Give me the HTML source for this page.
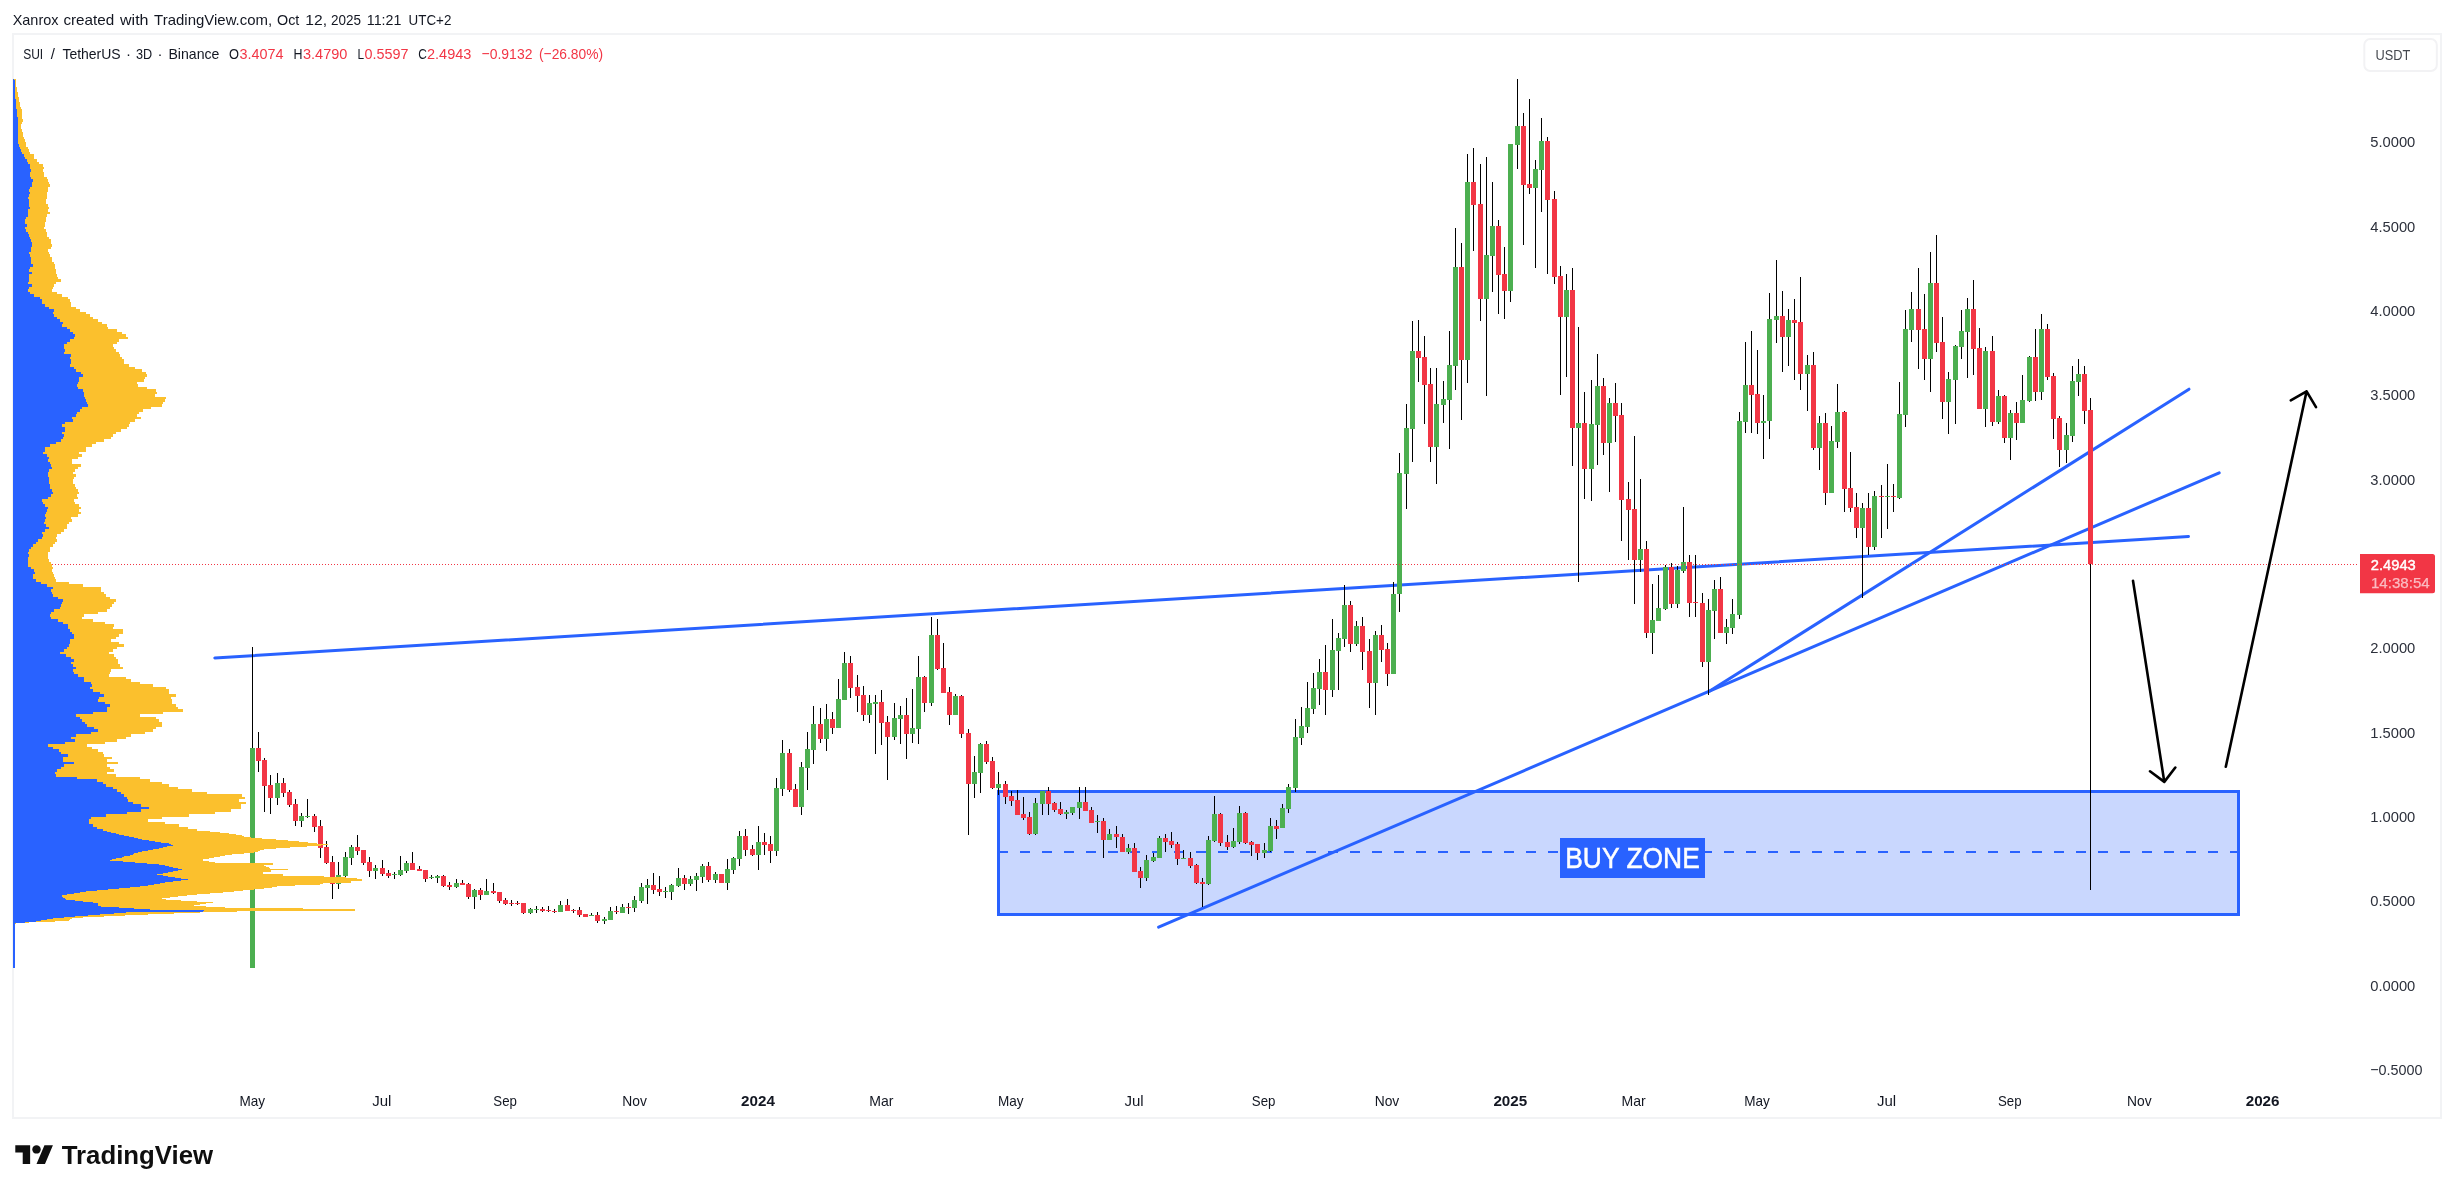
<!DOCTYPE html>
<html><head><meta charset="utf-8"><title>SUI / TetherUS chart</title>
<style>
html,body{margin:0;padding:0;background:#fff;}
body{width:2454px;height:1193px;overflow:hidden;}
svg{display:block;font-family:"Liberation Sans",sans-serif;}
</style></head><body>
<svg width="2454" height="1193" viewBox="0 0 2454 1193" shape-rendering="crispEdges">
<rect width="2454" height="1193" fill="#fff"/>
<rect x="13" y="34" width="2428" height="1084" fill="none" stroke="#f2f3f5" stroke-width="2"/>
<rect x="998.5" y="791.5" width="1240" height="123" fill="#c9d7fe" stroke="#2962ff" stroke-width="3"/>
<line x1="998.1" y1="852" x2="2238" y2="852" stroke="#2962ff" stroke-width="2" stroke-dasharray="10 12"/>
<g stroke="#2962ff" stroke-width="3" stroke-linecap="round" shape-rendering="geometricPrecision">
<line x1="214.8" y1="658" x2="2188.5" y2="536.5"/>
<line x1="1158.6" y1="927.1" x2="2219.2" y2="472.9"/>
<line x1="1709.0" y1="691.6" x2="2189.0" y2="389.2"/>
</g>
<rect x="1560" y="838" width="145" height="40" fill="#2962ff"/>
<path d="M252 647v321h1v-321zM258 732v40h1v-40zM264 758v54h1v-54zM270 775v39h1v-39zM277 773v32h1v-32zM283 778v19h1v-19zM289 790v17h1v-17zM295 799v27h1v-27zM301 813v14h1v-14zM307 799v19h1v-19zM314 814v18h1v-18zM320 820v38h1v-38zM326 841v23h1v-23zM332 856v43h1v-43zM338 862v27h1v-27zM345 852v25h1v-25zM351 845v20h1v-20zM357 835v20h1v-20zM363 850v15h1v-15zM369 857v20h1v-20zM375 865v14h1v-14zM382 860v16h1v-16zM388 870v8h1v-8zM394 872v7h1v-7zM400 856v20h1v-20zM406 861v12h1v-12zM412 852v18h1v-18zM419 866v5h1v-5zM425 870v12h1v-12zM431 875v4h1v-4zM437 875v8h1v-8zM443 875v12h1v-12zM449 882v8h1v-8zM456 879v9h1v-9zM462 880v5h1v-5zM468 883v16h1v-16zM474 889v20h1v-20zM480 888v12h1v-12zM486 879v16h1v-16zM493 883v11h1v-11zM499 892v11h1v-11zM505 898v7h1v-7zM511 900v6h1v-6zM517 901v4h1v-4zM523 903v11h1v-11zM530 908v6h1v-6zM536 906v7h1v-7zM542 907v5h1v-5zM548 906v6h1v-6zM554 909v4h1v-4zM560 901v11h1v-11zM567 899v12h1v-12zM573 909v4h1v-4zM579 907v10h1v-10zM585 914v3h1v-3zM591 913v3h1v-3zM597 912v11h1v-11zM604 917v7h1v-7zM610 907v13h1v-13zM616 906v8h1v-8zM622 904v9h1v-9zM628 903v11h1v-11zM634 896v16h1v-16zM641 883v20h1v-20zM647 879v25h1v-25zM653 873v21h1v-21zM659 876v20h1v-20zM665 887v11h1v-11zM671 884v16h1v-16zM678 868v19h1v-19zM684 875v15h1v-15zM690 876v10h1v-10zM696 873v18h1v-18zM702 864v19h1v-19zM708 862v20h1v-20zM715 872v11h1v-11zM721 874v9h1v-9zM727 859v31h1v-31zM733 857v17h1v-17zM739 831v35h1v-35zM745 829v27h1v-27zM752 845v11h1v-11zM758 826v44h1v-44zM764 833v22h1v-22zM770 836v27h1v-27zM776 778v78h1v-78zM782 740v56h1v-56zM789 749v43h1v-43zM795 784v23h1v-23zM801 762v53h1v-53zM807 732v58h1v-58zM813 706v58h1v-58zM820 708v35h1v-35zM826 704v47h1v-47zM832 712v22h1v-22zM838 679v49h1v-49zM844 652v48h1v-48zM850 656v42h1v-42zM857 675v37h1v-37zM863 686v35h1v-35zM869 695v28h1v-28zM875 695v59h1v-59zM881 690v55h1v-55zM887 716v64h1v-64zM894 703v37h1v-37zM900 706v38h1v-38zM906 698v61h1v-61zM912 689v54h1v-54zM918 656v88h1v-88zM924 676v36h1v-36zM931 617v89h1v-89zM937 619v51h1v-51zM943 643v50h1v-50zM949 687v38h1v-38zM955 694v21h1v-21zM961 695v43h1v-43zM968 729v106h1v-106zM974 756v42h1v-42zM980 743v50h1v-50zM986 741v23h1v-23zM992 757v32h1v-32zM998 772v23h1v-23zM1005 781v23h1v-23zM1011 791v15h1v-15zM1017 790v25h1v-25zM1023 797v23h1v-23zM1029 812v23h1v-23zM1035 798v37h1v-37zM1042 791v24h1v-24zM1048 787v28h1v-28zM1054 802v10h1v-10zM1060 802v13h1v-13zM1066 810v9h1v-9zM1072 807v8h1v-8zM1079 787v32h1v-32zM1085 787v24h1v-24zM1091 807v16h1v-16zM1097 815v18h1v-18zM1103 818v40h1v-40zM1109 829v11h1v-11zM1116 826v22h1v-22zM1122 834v18h1v-18zM1128 844v10h1v-10zM1134 843v29h1v-29zM1140 867v21h1v-21zM1146 855v26h1v-26zM1153 853v9h1v-9zM1159 836v22h1v-22zM1165 834v18h1v-18zM1171 832v16h1v-16zM1177 842v23h1v-23zM1183 850v9h1v-9zM1190 852v16h1v-16zM1196 864v20h1v-20zM1202 878v29h1v-29zM1208 836v49h1v-49zM1214 796v46h1v-46zM1220 813v33h1v-33zM1227 835v15h1v-15zM1233 828v20h1v-20zM1239 806v38h1v-38zM1245 812v32h1v-32zM1251 841v15h1v-15zM1257 844v16h1v-16zM1264 843v15h1v-15zM1270 818v34h1v-34zM1276 820v19h1v-19zM1282 804v24h1v-24zM1288 784v29h1v-29zM1295 719v73h1v-73zM1301 707v38h1v-38zM1307 682v51h1v-51zM1313 673v41h1v-41zM1319 659v46h1v-46zM1325 645v70h1v-70zM1332 619v78h1v-78zM1338 633v57h1v-57zM1344 585v62h1v-62zM1350 601v51h1v-51zM1356 621v25h1v-25zM1362 617v53h1v-53zM1369 639v69h1v-69zM1375 631v84h1v-84zM1381 625v37h1v-37zM1387 643v43h1v-43zM1393 582v92h1v-92zM1399 453v159h1v-159zM1406 404v105h1v-105zM1412 321v141h1v-141zM1418 320v62h1v-62zM1424 336v88h1v-88zM1430 368v94h1v-94zM1436 368v116h1v-116zM1443 381v42h1v-42zM1449 331v118h1v-118zM1455 228v162h1v-162zM1461 243v177h1v-177zM1467 154v229h1v-229zM1473 148v103h1v-103zM1480 164v157h1v-157zM1486 157v239h1v-239zM1492 182v110h1v-110zM1498 220v94h1v-94zM1504 247v72h1v-72zM1510 144v158h1v-158zM1517 79v90h1v-90zM1523 113v132h1v-132zM1529 99v95h1v-95zM1535 160v108h1v-108zM1541 118v94h1v-94zM1547 137v137h1v-137zM1554 191v93h1v-93zM1560 266v129h1v-129zM1566 274v103h1v-103zM1572 268v198h1v-198zM1578 327v255h1v-255zM1584 392v107h1v-107zM1591 380v121h1v-121zM1597 354v111h1v-111zM1603 378v77h1v-77zM1609 398v94h1v-94zM1615 383v59h1v-59zM1621 403v138h1v-138zM1628 482v78h1v-78zM1634 436v168h1v-168zM1640 479v93h1v-93zM1646 541v97h1v-97zM1652 584v70h1v-70zM1658 575v46h1v-46zM1665 565v45h1v-45zM1671 563v45h1v-45zM1677 566v42h1v-42zM1683 507v66h1v-66zM1689 555v62h1v-62zM1695 555v62h1v-62zM1702 593v74h1v-74zM1708 599v96h1v-96zM1714 580v59h1v-59zM1720 577v56h1v-56zM1726 619v25h1v-25zM1732 599v35h1v-35zM1739 412v207h1v-207zM1745 342v91h1v-91zM1751 331v102h1v-102zM1757 350v84h1v-84zM1763 395v64h1v-64zM1769 293v146h1v-146zM1776 260v83h1v-83zM1782 291v81h1v-81zM1788 309v57h1v-57zM1794 299v81h1v-81zM1800 277v113h1v-113zM1807 355v56h1v-56zM1813 352v98h1v-98zM1819 416v54h1v-54zM1825 413v92h1v-92zM1831 426v67h1v-67zM1837 384v64h1v-64zM1844 411v101h1v-101zM1850 452v60h1v-60zM1856 493v45h1v-45zM1862 503v95h1v-95zM1868 493v62h1v-62zM1874 491v59h1v-59zM1881 485v53h1v-53zM1887 464v65h1v-65zM1893 484v28h1v-28zM1899 382v117h1v-117zM1905 310v117h1v-117zM1911 292v50h1v-50zM1918 268v101h1v-101zM1924 294v86h1v-86zM1930 252v140h1v-140zM1936 235v117h1v-117zM1942 317v102h1v-102zM1948 372v62h1v-62zM1955 345v79h1v-79zM1961 310v49h1v-49zM1967 298v80h1v-80zM1973 280v95h1v-95zM1979 328v81h1v-81zM1985 347v80h1v-80zM1992 336v90h1v-90zM1998 390v34h1v-34zM2004 395v48h1v-48zM2010 410v50h1v-50zM2016 402v38h1v-38zM2022 375v48h1v-48zM2029 356v46h1v-46zM2035 329v72h1v-72zM2041 314v86h1v-86zM2047 324v56h1v-56zM2053 373v66h1v-66zM2059 416v51h1v-51zM2066 423v40h1v-40zM2072 366v76h1v-76zM2078 359v37h1v-37zM2084 366v58h1v-58zM2090 398v492h1v-492z" fill="#000"/>
<path d="M250 748v220h5v-220zM275 783v15h5v-15zM299 816v5h5v-5zM305 816v1h5v-1zM336 875v9h5v-9zM343 857v19h5v-19zM349 847v11h5v-11zM373 868v3h5v-3zM392 874v1h5v-1zM398 870v5h5v-5zM404 863v8h5v-8zM429 877v1h5v-1zM435 876v2h5v-2zM454 883v4h5v-4zM472 890v7h5v-7zM484 891v4h5v-4zM528 909v4h5v-4zM534 909v1h5v-1zM558 905v7h5v-7zM589 915v1h5v-1zM602 919v2h5v-2zM608 911v9h5v-9zM620 907v6h5v-6zM632 900v8h5v-8zM639 887v14h5v-14zM645 885v3h5v-3zM663 891v1h5v-1zM669 885v7h5v-7zM676 878v8h5v-8zM688 879v5h5v-5zM694 876v4h5v-4zM700 866v11h5v-11zM713 874v6h5v-6zM725 869v14h5v-14zM731 858v12h5v-12zM737 836v23h5v-23zM756 842v13h5v-13zM774 788v63h5v-63zM780 753v36h5v-36zM799 767v40h5v-40zM805 749v19h5v-19zM811 724v26h5v-26zM824 719v20h5v-20zM836 699v29h5v-29zM842 663v37h5v-37zM867 703v12h5v-12zM873 702v2h5v-2zM892 718v19h5v-19zM898 715v4h5v-4zM910 728v6h5v-6zM916 677v52h5v-52zM929 635v68h5v-68zM953 696v19h5v-19zM972 772v12h5v-12zM978 744v29h5v-29zM996 784v4h5v-4zM1033 803v31h5v-31zM1040 791v13h5v-13zM1064 812v2h5v-2zM1070 807v6h5v-6zM1077 802v6h5v-6zM1095 821v1h5v-1zM1107 834v6h5v-6zM1126 848v4h5v-4zM1144 860v18h5v-18zM1151 857v4h5v-4zM1157 838v20h5v-20zM1181 858v1h5v-1zM1206 840v44h5v-44zM1212 814v27h5v-27zM1231 841v6h5v-6zM1237 813v29h5v-29zM1262 850v3h5v-3zM1268 826v25h5v-25zM1280 808v20h5v-20zM1286 787v22h5v-22zM1293 737v51h5v-51zM1299 726v12h5v-12zM1305 708v19h5v-19zM1311 688v21h5v-21zM1317 672v17h5v-17zM1330 650v40h5v-40zM1336 638v13h5v-13zM1342 605v34h5v-34zM1354 626v18h5v-18zM1373 635v48h5v-48zM1391 594v80h5v-80zM1397 473v121h5v-121zM1404 428v46h5v-46zM1410 351v78h5v-78zM1434 404v43h5v-43zM1441 399v6h5v-6zM1447 365v35h5v-35zM1453 267v99h5v-99zM1465 182v178h5v-178zM1484 255v44h5v-44zM1490 226v30h5v-30zM1508 144v147h5v-147zM1515 126v19h5v-19zM1533 169v19h5v-19zM1539 141v29h5v-29zM1564 290v27h5v-27zM1576 423v5h5v-5zM1589 424v45h5v-45zM1595 386v39h5v-39zM1607 403v40h5v-40zM1638 549v11h5v-11zM1650 620v13h5v-13zM1656 608v13h5v-13zM1663 567v42h5v-42zM1675 570v34h5v-34zM1681 562v9h5v-9zM1706 610v52h5v-52zM1712 589v22h5v-22zM1724 627v6h5v-6zM1730 614v14h5v-14zM1737 421v194h5v-194zM1743 385v37h5v-37zM1761 421v2h5v-2zM1767 319v102h5v-102zM1774 316v4h5v-4zM1786 320v17h5v-17zM1805 365v9h5v-9zM1817 423v25h5v-25zM1829 441v52h5v-52zM1835 412v30h5v-30zM1860 508v20h5v-20zM1872 496v51h5v-51zM1885 496v1h5v-1zM1897 414v84h5v-84zM1903 329v86h5v-86zM1909 309v21h5v-21zM1928 283v76h5v-76zM1946 379v23h5v-23zM1953 346v34h5v-34zM1959 331v16h5v-16zM1965 309v23h5v-23zM1983 351v58h5v-58zM1996 396v26h5v-26zM2008 413v25h5v-25zM2020 400v23h5v-23zM2027 357v44h5v-44zM2039 329v63h5v-63zM2064 435v15h5v-15zM2070 381v55h5v-55zM2076 374v8h5v-8z" fill="#4caf50"/>
<path d="M256 748v13h5v-13zM262 760v26h5v-26zM268 785v13h5v-13zM281 783v10h5v-10zM287 792v13h5v-13zM293 804v17h5v-17zM312 816v11h5v-11zM318 826v22h5v-22zM324 847v16h5v-16zM330 862v22h5v-22zM355 847v4h5v-4zM361 850v13h5v-13zM367 862v9h5v-9zM380 868v6h5v-6zM386 873v3h5v-3zM410 863v7h5v-7zM417 869v2h5v-2zM423 870v9h5v-9zM441 876v10h5v-10zM447 885v2h5v-2zM460 883v2h5v-2zM466 884v13h5v-13zM478 890v5h5v-5zM491 891v2h5v-2zM497 892v9h5v-9zM503 900v4h5v-4zM509 903v1h5v-1zM515 903v1h5v-1zM521 903v10h5v-10zM540 909v2h5v-2zM546 910v1h5v-1zM552 911v1h5v-1zM565 905v6h5v-6zM571 910v1h5v-1zM577 910v5h5v-5zM583 914v3h5v-3zM595 915v6h5v-6zM614 911v1h5v-1zM626 907v1h5v-1zM651 885v5h5v-5zM657 889v3h5v-3zM682 878v6h5v-6zM706 866v14h5v-14zM719 874v9h5v-9zM743 836v14h5v-14zM750 849v6h5v-6zM762 842v3h5v-3zM768 844v7h5v-7zM787 753v37h5v-37zM793 789v18h5v-18zM818 724v15h5v-15zM830 719v9h5v-9zM848 663v25h5v-25zM855 687v9h5v-9zM861 695v20h5v-20zM879 702v21h5v-21zM885 722v15h5v-15zM904 715v19h5v-19zM922 677v26h5v-26zM935 635v34h5v-34zM941 668v25h5v-25zM947 692v23h5v-23zM959 696v38h5v-38zM966 733v51h5v-51zM984 744v18h5v-18zM990 761v27h5v-27zM1003 784v13h5v-13zM1009 796v5h5v-5zM1015 800v15h5v-15zM1021 814v4h5v-4zM1027 817v17h5v-17zM1046 791v13h5v-13zM1052 803v7h5v-7zM1058 809v5h5v-5zM1083 802v9h5v-9zM1089 810v13h5v-13zM1101 821v19h5v-19zM1114 834v3h5v-3zM1120 837v15h5v-15zM1132 848v24h5v-24zM1138 871v7h5v-7zM1163 838v4h5v-4zM1169 841v4h5v-4zM1175 844v15h5v-15zM1188 858v8h5v-8zM1194 865v18h5v-18zM1200 882v2h5v-2zM1218 814v29h5v-29zM1225 842v5h5v-5zM1243 813v30h5v-30zM1249 842v3h5v-3zM1255 844v9h5v-9zM1274 826v3h5v-3zM1323 672v18h5v-18zM1348 605v39h5v-39zM1360 626v26h5v-26zM1367 651v32h5v-32zM1379 635v15h5v-15zM1385 649v25h5v-25zM1416 351v7h5v-7zM1422 357v28h5v-28zM1428 384v63h5v-63zM1459 267v93h5v-93zM1471 182v23h5v-23zM1478 204v95h5v-95zM1496 226v49h5v-49zM1502 274v17h5v-17zM1521 126v59h5v-59zM1527 184v4h5v-4zM1545 141v59h5v-59zM1552 199v78h5v-78zM1558 276v41h5v-41zM1570 290v138h5v-138zM1582 423v46h5v-46zM1601 386v57h5v-57zM1613 403v13h5v-13zM1619 415v85h5v-85zM1626 499v11h5v-11zM1632 509v51h5v-51zM1644 549v84h5v-84zM1669 567v37h5v-37zM1687 562v41h5v-41zM1693 602v1h5v-1zM1700 603v59h5v-59zM1718 589v44h5v-44zM1749 385v10h5v-10zM1755 394v29h5v-29zM1780 316v21h5v-21zM1792 320v3h5v-3zM1798 322v52h5v-52zM1811 365v83h5v-83zM1823 423v70h5v-70zM1842 412v77h5v-77zM1848 488v20h5v-20zM1854 507v21h5v-21zM1866 508v39h5v-39zM1879 496v1h5v-1zM1891 496v1h5v-1zM1916 309v21h5v-21zM1922 329v30h5v-30zM1934 283v60h5v-60zM1940 342v60h5v-60zM1971 309v40h5v-40zM1977 348v61h5v-61zM1990 351v71h5v-71zM2002 396v42h5v-42zM2014 413v10h5v-10zM2033 357v35h5v-35zM2045 329v48h5v-48zM2051 376v43h5v-43zM2057 418v32h5v-32zM2082 374v37h5v-37zM2088 410v154h5v-154z" fill="#f23645"/>
<path d="M13 79H16V80H16V81H16V82H16V83H16V84H16V85H16V86H16V87H17V88H17V89H17V90H17V91H17V92H18V93H18V94H18V95H18V96H18V97H19V98H19V99H19V100H19V101H19V102H20V103H20V104H20V105H20V106H20V107H21V108H21V109H22V110H22V111H22V112H22V113H22V114H22V115H22V116H22V117H22V118H22V119H23V120H23V121H23V122H22V123H22V124H21V125H21V126H21V127H21V128H21V129H22V130H22V131H22V132H23V133H23V134H23V135H23V136H23V137H24V138H24V139H25V140H25V141H25V142H26V143H26V144H26V145H26V146H26V147H28V148H28V149H29V150H29V151H29V152H30V153H30V154H34V155H34V156H34V157H34V158H34V159H37V160H37V161H37V162H39V163H39V164H43V165H43V166H43V167H44V168H44V169H43V170H43V171H43V172H44V173H44V174H44V175H44V176H44V177H47V178H47V179H48V180H48V181H48V182H49V183H49V184H50V185H50V186H50V187H48V188H48V189H48V190H48V191H48V192H47V193H47V194H47V195H47V196H47V197H47V198H47V199H46V200H46V201H46V202H46V203H46V204H48V205H48V206H48V207H49V208H49V209H48V210H48V211H48V212H50V213H50V214H47V215H47V216H47V217H46V218H46V219H46V220H46V221H46V222H45V223H45V224H45V225H45V226H45V227H44V228H44V229H46V230H46V231H46V232H47V233H47V234H47V235H47V236H47V237H49V238H49V239H51V240H51V241H51V242H51V243H51V244H52V245H52V246H52V247H51V248H51V249H48V250H48V251H48V252H49V253H49V254H50V255H50V256H50V257H52V258H52V259H52V260H52V261H52V262H54V263H54V264H55V265H55V266H55V267H55V268H55V269H56V270H56V271H56V272H56V273H56V274H57V275H57V276H57V277H58V278H58V279H61V280H61V281H61V282H56V283H56V284H54V285H54V286H54V287H53V288H53V289H52V290H52V291H52V292H57V293H57V294H62V295H62V296H62V297H68V298H68V299H70V300H70V301H70V302H71V303H71V304H71V305H71V306H71V307H76V308H76V309H80V310H80V311H80V312H86V313H86V314H90V315H90V316H90V317H93V318H93V319H98V320H98V321H98V322H102V323H102V324H107V325H107V326H107V327H108V328H108V329H117V330H117V331H117V332H122V333H122V334H126V335H126V336H126V337H128V338H128V339H119V340H119V341H119V342H117V343H117V344H113V345H113V346H113V347H114V348H114V349H116V350H116V351H116V352H119V353H119V354H120V355H120V356H120V357H122V358H122V359H124V360H124V361H124V362H124V363H124V364H129V365H129V366H129V367H135V368H135V369H142V370H142V371H142V372H146V373H146V374H147V375H147V376H147V377H145V378H145V379H144V380H144V381H144V382H137V383H137V384H138V385H138V386H138V387H147V388H147V389H156V390H156V391H156V392H157V393H157V394H155V395H155V396H155V397H166V398H166V399H165V400H165V401H165V402H163V403H163V404H162V405H162V406H162V407H151V408H151V409H143V410H143V411H143V412H139V413H139V414H137V415H137V416H137V417H141V418H141V419H135V420H135V421H135V422H130V423H130V424H129V425H129V426H129V427H127V428H127V429H121V430H121V431H121V432H116V433H116V434H113V435H113V436H113V437H111V438H111V439H104V440H104V441H104V442H96V443H96V444H92V445H92V446H92V447H86V448H86V449H86V450H86V451H86V452H79V453H79V454H82V455H82V456H82V457H78V458H78V459H72V460H72V461H72V462H72V463H72V464H81V465H81V466H81V467H78V468H78V469H75V470H75V471H75V472H73V473H73V474H76V475H76V476H76V477H74V478H74V479H73V480H73V481H73V482H73V483H73V484H75V485H75V486H75V487H76V488H76V489H78V490H78V491H78V492H79V493H79V494H77V495H77V496H77V497H78V498H78V499H74V500H74V501H74V502H75V503H75V504H79V505H79V506H79V507H81V508H81V509H79V510H79V511H79V512H81V513H81V514H78V515H78V516H78V517H71V518H71V519H72V520H72V521H72V522H69V523H69V524H67V525H67V526H67V527H67V528H67V529H64V530H64V531H64V532H61V533H61V534H57V535H57V536H57V537H56V538H56V539H57V540H57V541H57V542H55V543H55V544H53V545H53V546H53V547H50V548H50V549H50V550H50V551H50V552H48V553H48V554H48V555H48V556H48V557H48V558H48V559H49V560H49V561H49V562H51V563H51V564H52V565H52V566H52V567H53V568H53V569H52V570H52V571H52V572H53V573H53V574H54V575H54V576H54V577H55V578H55V579H56V580H56V581H56V582H69V583H69V584H83V585H83V586H83V587H101V588H101V589H101V590H101V591H101V592H104V593H104V594H106V595H106V596H106V597H110V598H110V599H116V600H116V601H116V602H114V603H114V604H112V605H112V606H112V607H110V608H110V609H107V610H107V611H107V612H98V613H98V614H84V615H84V616H84V617H82V618H82V619H93V620H93V621H93V622H105V623H105V624H114V625H114V626H114V627H113V628H113V629H123V630H123V631H123V632H123V633H123V634H119V635H119V636H119V637H116V638H116V639H111V640H111V641H111V642H119V643H119V644H124V645H124V646H124V647H117V648H117V649H113V650H113V651H113V652H109V653H109V654H114V655H114V656H114V657H116V658H116V659H118V660H118V661H118V662H118V663H118V664H120V665H120V666H120V667H123V668H123V669H111V670H111V671H111V672H110V673H110V674H109V675H109V676H109V677H126V678H126V679H131V680H131V681H131V682H140V683H140V684H153V685H153V686H153V687H166V688H166V689H169V690H169V691H169V692H169V693H169V694H176V695H176V696H176V697H171V698H171V699H172V700H172V701H172V702H172V703H172V704H176V705H176V706H176V707H178V708H178V709H183V710H183V711H183V712H163V713H163V714H140V715H140V716H140V717H156V718H156V719H159V720H159V721H159V722H162V723H162V724H162V725H162V726H162V727H156V728H156V729H153V730H153V731H153V732H145V733H145V734H131V735H131V736H131V737H126V738H126V739H117V740H117V741H117V742H105V743H105V744H87V745H87V746H87V747H92V748H92V749H98V750H98V751H98V752H103V753H103V754H104V755H104V756H104V757H112V758H112V759H107V760H107V761H107V762H118V763H118V764H107V765H107V766H107V767H110V768H110V769H114V770H114V771H114V772H107V773H107V774H116V775H116V776H116V777H140V778H140V779H150V780H150V781H150V782H162V783H162V784H169V785H169V786H169V787H178V788H178V789H192V790H192V791H192V792H207V793H207V794H242V795H242V796H242V797H245V798H245V799H239V800H239V801H239V802H246V803H246V804H241V805H241V806H241V807H241V808H241V809H231V810H231V811H231V812H215V813H215V814H189V815H189V816H189V817H162V818H162V819H148V820H148V821H148V822H165V823H165V824H179V825H179V826H179V827H188V828H188V829H197V830H197V831H210V832H220V833H229V834H236V835H242V836H244V837H251V838H262V839H276V840H288V841H299V842H308V843H317V844H328V845H321V846H307V847H290V848H276V849H264V850H260V851H258V852H254V853H244V854H232V855H225V856H220V857H214V858H209V859H203V860H203V861H209V862H215V863H273V864H273V865H264V866H266V867H269V868H270V869H288V870H271V871H271V872H263V873H263V874H283V875H283V876H324V877H346V878H357V879H362V880H362V881H351V882H351V883H323V884H320V885H295V886H277V887H272V888H264V889H254V890H243V891H234V892H223V893H210V894H197V895H187V896H178V897H170V898H162V899H166V900H181V901H197V902H213V903H206V904H200V905H194V906H206V907H225V908H303V909H355V910H355V911H237V912H200V913H174V914H148V915H125V916H104V917H83V918H72V919H70V920H69V921H55V922H29V923H16V924H13Z" fill="#fbc02d"/>
<path d="M13 79H14V80H14V81H14V82H14V83H14V84H14V85H14V86H14V87H14V88H14V89H15V90H15V91H15V92H15V93H15V94H15V95H15V96H15V97H15V98H15V99H16V100H16V101H16V102H16V103H16V104H16V105H16V106H16V107H16V108H16V109H17V110H17V111H17V112H17V113H17V114H17V115H17V116H17V117H18V118H18V119H18V120H18V121H18V122H18V123H18V124H18V125H18V126H18V127H18V128H18V129H18V130H18V131H18V132H18V133H18V134H18V135H18V136H18V137H18V138H18V139H18V140H18V141H18V142H18V143H18V144H19V145H19V146H19V147H20V148H20V149H21V150H21V151H21V152H22V153H22V154H24V155H24V156H24V157H25V158H25V159H27V160H27V161H27V162H28V163H28V164H30V165H30V166H30V167H30V168H30V169H31V170H31V171H31V172H30V173H30V174H30V175H30V176H30V177H31V178H31V179H33V180H33V181H33V182H32V183H32V184H32V185H32V186H32V187H30V188H30V189H29V190H29V191H29V192H30V193H30V194H29V195H29V196H29V197H28V198H28V199H29V200H29V201H29V202H29V203H29V204H29V205H29V206H29V207H30V208H30V209H28V210H28V211H28V212H28V213H28V214H28V215H28V216H28V217H26V218H26V219H25V220H25V221H25V222H25V223H25V224H27V225H27V226H27V227H25V228H25V229H26V230H26V231H26V232H28V233H28V234H29V235H29V236H29V237H30V238H30V239H31V240H31V241H31V242H32V243H32V244H32V245H32V246H32V247H31V248H31V249H31V250H31V251H31V252H29V253H29V254H30V255H30V256H30V257H31V258H31V259H31V260H31V261H31V262H31V263H31V264H33V265H33V266H33V267H30V268H30V269H29V270H29V271H29V272H32V273H32V274H29V275H29V276H29V277H29V278H29V279H29V280H29V281H29V282H28V283H28V284H32V285H32V286H32V287H29V288H29V289H28V290H28V291H28V292H30V293H30V294H34V295H34V296H34V297H40V298H40V299H42V300H42V301H42V302H42V303H42V304H45V305H45V306H45V307H49V308H49V309H54V310H54V311H54V312H53V313H53V314H54V315H54V316H54V317H57V318H57V319H60V320H60V321H60V322H63V323H63V324H62V325H62V326H62V327H67V328H67V329H70V330H70V331H70V332H73V333H73V334H75V335H75V336H75V337H74V338H74V339H70V340H70V341H70V342H67V343H67V344H64V345H64V346H64V347H64V348H64V349H65V350H65V351H65V352H64V353H64V354H71V355H71V356H71V357H70V358H70V359H71V360H71V361H71V362H71V363H71V364H70V365H70V366H70V367H74V368H74V369H76V370H76V371H76V372H81V373H81V374H83V375H83V376H83V377H79V378H79V379H79V380H79V381H79V382H78V383H78V384H77V385H77V386H77V387H78V388H78V389H83V390H83V391H83V392H84V393H84V394H84V395H84V396H84V397H85V398H85V399H86V400H86V401H86V402H87V403H87V404H88V405H88V406H88V407H82V408H82V409H80V410H80V411H80V412H77V413H77V414H76V415H76V416H76V417H72V418H72V419H73V420H73V421H73V422H65V423H65V424H62V425H62V426H62V427H65V428H65V429H65V430H65V431H65V432H62V433H62V434H64V435H64V436H64V437H63V438H63V439H61V440H61V441H61V442H56V443H56V444H50V445H50V446H50V447H45V448H45V449H45V450H45V451H45V452H43V453H43V454H47V455H47V456H47V457H49V458H49V459H48V460H48V461H48V462H50V463H50V464H51V465H51V466H51V467H52V468H52V469H49V470H49V471H49V472H48V473H48V474H48V475H48V476H48V477H49V478H49V479H49V480H49V481H49V482H49V483H49V484H50V485H50V486H50V487H50V488H50V489H52V490H52V491H52V492H53V493H53V494H51V495H51V496H51V497H48V498H48V499H42V500H42V501H42V502H43V503H43V504H45V505H45V506H45V507H48V508H48V509H47V510H47V511H47V512H46V513H46V514H45V515H45V516H45V517H46V518H46V519H45V520H45V521H45V522H44V523H44V524H46V525H46V526H46V527H49V528H49V529H45V530H45V531H45V532H42V533H42V534H43V535H43V536H43V537H42V538H42V539H38V540H38V541H38V542H36V543H36V544H33V545H33V546H33V547H31V548H31V549H29V550H29V551H29V552H28V553H28V554H29V555H29V556H29V557H28V558H28V559H28V560H28V561H28V562H28V563H28V564H28V565H28V566H28V567H31V568H31V569H34V570H34V571H34V572H35V573H35V574H33V575H33V576H33V577H33V578H33V579H36V580H36V581H36V582H41V583H41V584H47V585H47V586H47V587H53V588H53V589H51V590H51V591H51V592H52V593H52V594H53V595H53V596H53V597H58V598H58V599H63V600H63V601H63V602H62V603H62V604H61V605H61V606H61V607H60V608H60V609H54V610H54V611H54V612H51V613H51V614H50V615H50V616H50V617H51V618H51V619H58V620H58V621H58V622H63V623H63V624H68V625H68V626H68V627H68V628H68V629H70V630H70V631H70V632H72V633H72V634H74V635H74V636H74V637H74V638H74V639H70V640H70V641H70V642H70V643H70V644H69V645H69V646H69V647H67V648H67V649H64V650H64V651H64V652H60V653H60V654H66V655H66V656H66V657H71V658H71V659H74V660H74V661H74V662H71V663H71V664H73V665H73V666H73V667H76V668H76V669H73V670H73V671H73V672H74V673H74V674H78V675H78V676H78V677H84V678H84V679H84V680H84V681H84V682H91V683H91V684H92V685H92V686H92V687H90V688H90V689H93V690H93V691H93V692H100V693H100V694H104V695H104V696H104V697H99V698H99V699H98V700H98V701H98V702H105V703H105V704H110V705H110V706H110V707H107V708H107V709H107V710H107V711H107V712H93V713H93V714H76V715H76V716H76V717H80V718H80V719H82V720H82V721H82V722H85V723H85V724H87V725H87V726H87V727H94V728H94V729H98V730H98V731H98V732H91V733H91V734H76V735H76V736H76V737H71V738H71V739H75V740H75V741H75V742H65V743H65V744H48V745H48V746H48V747H53V748H53V749H59V750H59V751H59V752H61V753H61V754H68V755H68V756H68V757H63V758H63V759H63V760H63V761H63V762H74V763H74V764H64V765H64V766H64V767H61V768H61V769H57V770H57V771H57V772H55V773H55V774H56V775H56V776H56V777H77V778H77V779H97V780H97V781H97V782H103V783H103V784H106V785H106V786H106V787H113V788H113V789H117V790H117V791H117V792H121V793H121V794H124V795H124V796H124V797H127V798H127V799H128V800H128V801H128V802H133V803H133V804H141V805H141V806H141V807H149V808H149V809H141V810H141V811H141V812H127V813H127V814H106V815H106V816H106V817H91V818H91V819H89V820H89V821H89V822H89V823H89V824H93V825H93V826H93V827H97V828H97V829H103V830H103V831H107V832H111V833H116V834H119V835H124V836H129V837H134V838H138V839H142V840H149V841H155V842H161V843H169V844H171V845H173V846H167V847H163V848H159V849H153V850H148V851H142V852H138V853H134V854H133V855H130V856H124V857H122V858H116V859H112V860H110V861H123V862H135V863H147V864H159V865H165V866H169V867H173V868H178V869H182V870H178V871H173V872H168V873H163V874H157V875H163V876H168V877H175V878H181V879H188V880H181V881H173V882H165V883H160V884H154V885H148V886H140V887H130V888H119V889H108V890H97V891H86V892H80V893H74V894H67V895H62V896H62V897H63V898H65V899H66V900H75V901H83V902H93V903H98V904H98V905H98V906H101V907H119V908H134V909H150V910H204V911H203V912H126V913H114V914H100V915H88V916H75V917H64V918H53V919H47V920H41V921H36V922H25V923H15V924H13Z" fill="#2962ff"/>
<rect x="13" y="80" width="2" height="888" fill="#2962ff"/>
<path d="M52 564h1v1h-1zM55 564h1v1h-1zM58 564h1v1h-1zM61 564h1v1h-1zM64 564h1v1h-1zM67 564h1v1h-1zM70 564h1v1h-1zM73 564h1v1h-1zM76 564h1v1h-1zM79 564h1v1h-1zM82 564h1v1h-1zM85 564h1v1h-1zM88 564h1v1h-1zM91 564h1v1h-1zM94 564h1v1h-1zM97 564h1v1h-1zM100 564h1v1h-1zM103 564h1v1h-1zM106 564h1v1h-1zM109 564h1v1h-1zM112 564h1v1h-1zM115 564h1v1h-1zM118 564h1v1h-1zM121 564h1v1h-1zM124 564h1v1h-1zM127 564h1v1h-1zM130 564h1v1h-1zM133 564h1v1h-1zM136 564h1v1h-1zM139 564h1v1h-1zM142 564h1v1h-1zM145 564h1v1h-1zM148 564h1v1h-1zM151 564h1v1h-1zM154 564h1v1h-1zM157 564h1v1h-1zM160 564h1v1h-1zM163 564h1v1h-1zM166 564h1v1h-1zM169 564h1v1h-1zM172 564h1v1h-1zM175 564h1v1h-1zM178 564h1v1h-1zM181 564h1v1h-1zM184 564h1v1h-1zM187 564h1v1h-1zM190 564h1v1h-1zM193 564h1v1h-1zM196 564h1v1h-1zM199 564h1v1h-1zM202 564h1v1h-1zM205 564h1v1h-1zM208 564h1v1h-1zM211 564h1v1h-1zM214 564h1v1h-1zM217 564h1v1h-1zM220 564h1v1h-1zM223 564h1v1h-1zM226 564h1v1h-1zM229 564h1v1h-1zM232 564h1v1h-1zM235 564h1v1h-1zM238 564h1v1h-1zM241 564h1v1h-1zM244 564h1v1h-1zM247 564h1v1h-1zM250 564h1v1h-1zM253 564h1v1h-1zM256 564h1v1h-1zM259 564h1v1h-1zM262 564h1v1h-1zM265 564h1v1h-1zM268 564h1v1h-1zM271 564h1v1h-1zM274 564h1v1h-1zM277 564h1v1h-1zM280 564h1v1h-1zM283 564h1v1h-1zM286 564h1v1h-1zM289 564h1v1h-1zM292 564h1v1h-1zM295 564h1v1h-1zM298 564h1v1h-1zM301 564h1v1h-1zM304 564h1v1h-1zM307 564h1v1h-1zM310 564h1v1h-1zM313 564h1v1h-1zM316 564h1v1h-1zM319 564h1v1h-1zM322 564h1v1h-1zM325 564h1v1h-1zM328 564h1v1h-1zM331 564h1v1h-1zM334 564h1v1h-1zM337 564h1v1h-1zM340 564h1v1h-1zM343 564h1v1h-1zM346 564h1v1h-1zM349 564h1v1h-1zM352 564h1v1h-1zM355 564h1v1h-1zM358 564h1v1h-1zM361 564h1v1h-1zM364 564h1v1h-1zM367 564h1v1h-1zM370 564h1v1h-1zM373 564h1v1h-1zM376 564h1v1h-1zM379 564h1v1h-1zM382 564h1v1h-1zM385 564h1v1h-1zM388 564h1v1h-1zM391 564h1v1h-1zM394 564h1v1h-1zM397 564h1v1h-1zM400 564h1v1h-1zM403 564h1v1h-1zM406 564h1v1h-1zM409 564h1v1h-1zM412 564h1v1h-1zM415 564h1v1h-1zM418 564h1v1h-1zM421 564h1v1h-1zM424 564h1v1h-1zM427 564h1v1h-1zM430 564h1v1h-1zM433 564h1v1h-1zM436 564h1v1h-1zM439 564h1v1h-1zM442 564h1v1h-1zM445 564h1v1h-1zM448 564h1v1h-1zM451 564h1v1h-1zM454 564h1v1h-1zM457 564h1v1h-1zM460 564h1v1h-1zM463 564h1v1h-1zM466 564h1v1h-1zM469 564h1v1h-1zM472 564h1v1h-1zM475 564h1v1h-1zM478 564h1v1h-1zM481 564h1v1h-1zM484 564h1v1h-1zM487 564h1v1h-1zM490 564h1v1h-1zM493 564h1v1h-1zM496 564h1v1h-1zM499 564h1v1h-1zM502 564h1v1h-1zM505 564h1v1h-1zM508 564h1v1h-1zM511 564h1v1h-1zM514 564h1v1h-1zM517 564h1v1h-1zM520 564h1v1h-1zM523 564h1v1h-1zM526 564h1v1h-1zM529 564h1v1h-1zM532 564h1v1h-1zM535 564h1v1h-1zM538 564h1v1h-1zM541 564h1v1h-1zM544 564h1v1h-1zM547 564h1v1h-1zM550 564h1v1h-1zM553 564h1v1h-1zM556 564h1v1h-1zM559 564h1v1h-1zM562 564h1v1h-1zM565 564h1v1h-1zM568 564h1v1h-1zM571 564h1v1h-1zM574 564h1v1h-1zM577 564h1v1h-1zM580 564h1v1h-1zM583 564h1v1h-1zM586 564h1v1h-1zM589 564h1v1h-1zM592 564h1v1h-1zM595 564h1v1h-1zM598 564h1v1h-1zM601 564h1v1h-1zM604 564h1v1h-1zM607 564h1v1h-1zM610 564h1v1h-1zM613 564h1v1h-1zM616 564h1v1h-1zM619 564h1v1h-1zM622 564h1v1h-1zM625 564h1v1h-1zM628 564h1v1h-1zM631 564h1v1h-1zM634 564h1v1h-1zM637 564h1v1h-1zM640 564h1v1h-1zM643 564h1v1h-1zM646 564h1v1h-1zM649 564h1v1h-1zM652 564h1v1h-1zM655 564h1v1h-1zM658 564h1v1h-1zM661 564h1v1h-1zM664 564h1v1h-1zM667 564h1v1h-1zM670 564h1v1h-1zM673 564h1v1h-1zM676 564h1v1h-1zM679 564h1v1h-1zM682 564h1v1h-1zM685 564h1v1h-1zM688 564h1v1h-1zM691 564h1v1h-1zM694 564h1v1h-1zM697 564h1v1h-1zM700 564h1v1h-1zM703 564h1v1h-1zM706 564h1v1h-1zM709 564h1v1h-1zM712 564h1v1h-1zM715 564h1v1h-1zM718 564h1v1h-1zM721 564h1v1h-1zM724 564h1v1h-1zM727 564h1v1h-1zM730 564h1v1h-1zM733 564h1v1h-1zM736 564h1v1h-1zM739 564h1v1h-1zM742 564h1v1h-1zM745 564h1v1h-1zM748 564h1v1h-1zM751 564h1v1h-1zM754 564h1v1h-1zM757 564h1v1h-1zM760 564h1v1h-1zM763 564h1v1h-1zM766 564h1v1h-1zM769 564h1v1h-1zM772 564h1v1h-1zM775 564h1v1h-1zM778 564h1v1h-1zM781 564h1v1h-1zM784 564h1v1h-1zM787 564h1v1h-1zM790 564h1v1h-1zM793 564h1v1h-1zM796 564h1v1h-1zM799 564h1v1h-1zM802 564h1v1h-1zM805 564h1v1h-1zM808 564h1v1h-1zM811 564h1v1h-1zM814 564h1v1h-1zM817 564h1v1h-1zM820 564h1v1h-1zM823 564h1v1h-1zM826 564h1v1h-1zM829 564h1v1h-1zM832 564h1v1h-1zM835 564h1v1h-1zM838 564h1v1h-1zM841 564h1v1h-1zM844 564h1v1h-1zM847 564h1v1h-1zM850 564h1v1h-1zM853 564h1v1h-1zM856 564h1v1h-1zM859 564h1v1h-1zM862 564h1v1h-1zM865 564h1v1h-1zM868 564h1v1h-1zM871 564h1v1h-1zM874 564h1v1h-1zM877 564h1v1h-1zM880 564h1v1h-1zM883 564h1v1h-1zM886 564h1v1h-1zM889 564h1v1h-1zM892 564h1v1h-1zM895 564h1v1h-1zM898 564h1v1h-1zM901 564h1v1h-1zM904 564h1v1h-1zM907 564h1v1h-1zM910 564h1v1h-1zM913 564h1v1h-1zM916 564h1v1h-1zM919 564h1v1h-1zM922 564h1v1h-1zM925 564h1v1h-1zM928 564h1v1h-1zM931 564h1v1h-1zM934 564h1v1h-1zM937 564h1v1h-1zM940 564h1v1h-1zM943 564h1v1h-1zM946 564h1v1h-1zM949 564h1v1h-1zM952 564h1v1h-1zM955 564h1v1h-1zM958 564h1v1h-1zM961 564h1v1h-1zM964 564h1v1h-1zM967 564h1v1h-1zM970 564h1v1h-1zM973 564h1v1h-1zM976 564h1v1h-1zM979 564h1v1h-1zM982 564h1v1h-1zM985 564h1v1h-1zM988 564h1v1h-1zM991 564h1v1h-1zM994 564h1v1h-1zM997 564h1v1h-1zM1000 564h1v1h-1zM1003 564h1v1h-1zM1006 564h1v1h-1zM1009 564h1v1h-1zM1012 564h1v1h-1zM1015 564h1v1h-1zM1018 564h1v1h-1zM1021 564h1v1h-1zM1024 564h1v1h-1zM1027 564h1v1h-1zM1030 564h1v1h-1zM1033 564h1v1h-1zM1036 564h1v1h-1zM1039 564h1v1h-1zM1042 564h1v1h-1zM1045 564h1v1h-1zM1048 564h1v1h-1zM1051 564h1v1h-1zM1054 564h1v1h-1zM1057 564h1v1h-1zM1060 564h1v1h-1zM1063 564h1v1h-1zM1066 564h1v1h-1zM1069 564h1v1h-1zM1072 564h1v1h-1zM1075 564h1v1h-1zM1078 564h1v1h-1zM1081 564h1v1h-1zM1084 564h1v1h-1zM1087 564h1v1h-1zM1090 564h1v1h-1zM1093 564h1v1h-1zM1096 564h1v1h-1zM1099 564h1v1h-1zM1102 564h1v1h-1zM1105 564h1v1h-1zM1108 564h1v1h-1zM1111 564h1v1h-1zM1114 564h1v1h-1zM1117 564h1v1h-1zM1120 564h1v1h-1zM1123 564h1v1h-1zM1126 564h1v1h-1zM1129 564h1v1h-1zM1132 564h1v1h-1zM1135 564h1v1h-1zM1138 564h1v1h-1zM1141 564h1v1h-1zM1144 564h1v1h-1zM1147 564h1v1h-1zM1150 564h1v1h-1zM1153 564h1v1h-1zM1156 564h1v1h-1zM1159 564h1v1h-1zM1162 564h1v1h-1zM1165 564h1v1h-1zM1168 564h1v1h-1zM1171 564h1v1h-1zM1174 564h1v1h-1zM1177 564h1v1h-1zM1180 564h1v1h-1zM1183 564h1v1h-1zM1186 564h1v1h-1zM1189 564h1v1h-1zM1192 564h1v1h-1zM1195 564h1v1h-1zM1198 564h1v1h-1zM1201 564h1v1h-1zM1204 564h1v1h-1zM1207 564h1v1h-1zM1210 564h1v1h-1zM1213 564h1v1h-1zM1216 564h1v1h-1zM1219 564h1v1h-1zM1222 564h1v1h-1zM1225 564h1v1h-1zM1228 564h1v1h-1zM1231 564h1v1h-1zM1234 564h1v1h-1zM1237 564h1v1h-1zM1240 564h1v1h-1zM1243 564h1v1h-1zM1246 564h1v1h-1zM1249 564h1v1h-1zM1252 564h1v1h-1zM1255 564h1v1h-1zM1258 564h1v1h-1zM1261 564h1v1h-1zM1264 564h1v1h-1zM1267 564h1v1h-1zM1270 564h1v1h-1zM1273 564h1v1h-1zM1276 564h1v1h-1zM1279 564h1v1h-1zM1282 564h1v1h-1zM1285 564h1v1h-1zM1288 564h1v1h-1zM1291 564h1v1h-1zM1294 564h1v1h-1zM1297 564h1v1h-1zM1300 564h1v1h-1zM1303 564h1v1h-1zM1306 564h1v1h-1zM1309 564h1v1h-1zM1312 564h1v1h-1zM1315 564h1v1h-1zM1318 564h1v1h-1zM1321 564h1v1h-1zM1324 564h1v1h-1zM1327 564h1v1h-1zM1330 564h1v1h-1zM1333 564h1v1h-1zM1336 564h1v1h-1zM1339 564h1v1h-1zM1342 564h1v1h-1zM1345 564h1v1h-1zM1348 564h1v1h-1zM1351 564h1v1h-1zM1354 564h1v1h-1zM1357 564h1v1h-1zM1360 564h1v1h-1zM1363 564h1v1h-1zM1366 564h1v1h-1zM1369 564h1v1h-1zM1372 564h1v1h-1zM1375 564h1v1h-1zM1378 564h1v1h-1zM1381 564h1v1h-1zM1384 564h1v1h-1zM1387 564h1v1h-1zM1390 564h1v1h-1zM1393 564h1v1h-1zM1396 564h1v1h-1zM1399 564h1v1h-1zM1402 564h1v1h-1zM1405 564h1v1h-1zM1408 564h1v1h-1zM1411 564h1v1h-1zM1414 564h1v1h-1zM1417 564h1v1h-1zM1420 564h1v1h-1zM1423 564h1v1h-1zM1426 564h1v1h-1zM1429 564h1v1h-1zM1432 564h1v1h-1zM1435 564h1v1h-1zM1438 564h1v1h-1zM1441 564h1v1h-1zM1444 564h1v1h-1zM1447 564h1v1h-1zM1450 564h1v1h-1zM1453 564h1v1h-1zM1456 564h1v1h-1zM1459 564h1v1h-1zM1462 564h1v1h-1zM1465 564h1v1h-1zM1468 564h1v1h-1zM1471 564h1v1h-1zM1474 564h1v1h-1zM1477 564h1v1h-1zM1480 564h1v1h-1zM1483 564h1v1h-1zM1486 564h1v1h-1zM1489 564h1v1h-1zM1492 564h1v1h-1zM1495 564h1v1h-1zM1498 564h1v1h-1zM1501 564h1v1h-1zM1504 564h1v1h-1zM1507 564h1v1h-1zM1510 564h1v1h-1zM1513 564h1v1h-1zM1516 564h1v1h-1zM1519 564h1v1h-1zM1522 564h1v1h-1zM1525 564h1v1h-1zM1528 564h1v1h-1zM1531 564h1v1h-1zM1534 564h1v1h-1zM1537 564h1v1h-1zM1540 564h1v1h-1zM1543 564h1v1h-1zM1546 564h1v1h-1zM1549 564h1v1h-1zM1552 564h1v1h-1zM1555 564h1v1h-1zM1558 564h1v1h-1zM1561 564h1v1h-1zM1564 564h1v1h-1zM1567 564h1v1h-1zM1570 564h1v1h-1zM1573 564h1v1h-1zM1576 564h1v1h-1zM1579 564h1v1h-1zM1582 564h1v1h-1zM1585 564h1v1h-1zM1588 564h1v1h-1zM1591 564h1v1h-1zM1594 564h1v1h-1zM1597 564h1v1h-1zM1600 564h1v1h-1zM1603 564h1v1h-1zM1606 564h1v1h-1zM1609 564h1v1h-1zM1612 564h1v1h-1zM1615 564h1v1h-1zM1618 564h1v1h-1zM1621 564h1v1h-1zM1624 564h1v1h-1zM1627 564h1v1h-1zM1630 564h1v1h-1zM1633 564h1v1h-1zM1636 564h1v1h-1zM1639 564h1v1h-1zM1642 564h1v1h-1zM1645 564h1v1h-1zM1648 564h1v1h-1zM1651 564h1v1h-1zM1654 564h1v1h-1zM1657 564h1v1h-1zM1660 564h1v1h-1zM1663 564h1v1h-1zM1666 564h1v1h-1zM1669 564h1v1h-1zM1672 564h1v1h-1zM1675 564h1v1h-1zM1678 564h1v1h-1zM1681 564h1v1h-1zM1684 564h1v1h-1zM1687 564h1v1h-1zM1690 564h1v1h-1zM1693 564h1v1h-1zM1696 564h1v1h-1zM1699 564h1v1h-1zM1702 564h1v1h-1zM1705 564h1v1h-1zM1708 564h1v1h-1zM1711 564h1v1h-1zM1714 564h1v1h-1zM1717 564h1v1h-1zM1720 564h1v1h-1zM1723 564h1v1h-1zM1726 564h1v1h-1zM1729 564h1v1h-1zM1732 564h1v1h-1zM1735 564h1v1h-1zM1738 564h1v1h-1zM1741 564h1v1h-1zM1744 564h1v1h-1zM1747 564h1v1h-1zM1750 564h1v1h-1zM1753 564h1v1h-1zM1756 564h1v1h-1zM1759 564h1v1h-1zM1762 564h1v1h-1zM1765 564h1v1h-1zM1768 564h1v1h-1zM1771 564h1v1h-1zM1774 564h1v1h-1zM1777 564h1v1h-1zM1780 564h1v1h-1zM1783 564h1v1h-1zM1786 564h1v1h-1zM1789 564h1v1h-1zM1792 564h1v1h-1zM1795 564h1v1h-1zM1798 564h1v1h-1zM1801 564h1v1h-1zM1804 564h1v1h-1zM1807 564h1v1h-1zM1810 564h1v1h-1zM1813 564h1v1h-1zM1816 564h1v1h-1zM1819 564h1v1h-1zM1822 564h1v1h-1zM1825 564h1v1h-1zM1828 564h1v1h-1zM1831 564h1v1h-1zM1834 564h1v1h-1zM1837 564h1v1h-1zM1840 564h1v1h-1zM1843 564h1v1h-1zM1846 564h1v1h-1zM1849 564h1v1h-1zM1852 564h1v1h-1zM1855 564h1v1h-1zM1858 564h1v1h-1zM1861 564h1v1h-1zM1864 564h1v1h-1zM1867 564h1v1h-1zM1870 564h1v1h-1zM1873 564h1v1h-1zM1876 564h1v1h-1zM1879 564h1v1h-1zM1882 564h1v1h-1zM1885 564h1v1h-1zM1888 564h1v1h-1zM1891 564h1v1h-1zM1894 564h1v1h-1zM1897 564h1v1h-1zM1900 564h1v1h-1zM1903 564h1v1h-1zM1906 564h1v1h-1zM1909 564h1v1h-1zM1912 564h1v1h-1zM1915 564h1v1h-1zM1918 564h1v1h-1zM1921 564h1v1h-1zM1924 564h1v1h-1zM1927 564h1v1h-1zM1930 564h1v1h-1zM1933 564h1v1h-1zM1936 564h1v1h-1zM1939 564h1v1h-1zM1942 564h1v1h-1zM1945 564h1v1h-1zM1948 564h1v1h-1zM1951 564h1v1h-1zM1954 564h1v1h-1zM1957 564h1v1h-1zM1960 564h1v1h-1zM1963 564h1v1h-1zM1966 564h1v1h-1zM1969 564h1v1h-1zM1972 564h1v1h-1zM1975 564h1v1h-1zM1978 564h1v1h-1zM1981 564h1v1h-1zM1984 564h1v1h-1zM1987 564h1v1h-1zM1990 564h1v1h-1zM1993 564h1v1h-1zM1996 564h1v1h-1zM1999 564h1v1h-1zM2002 564h1v1h-1zM2005 564h1v1h-1zM2008 564h1v1h-1zM2011 564h1v1h-1zM2014 564h1v1h-1zM2017 564h1v1h-1zM2020 564h1v1h-1zM2023 564h1v1h-1zM2026 564h1v1h-1zM2029 564h1v1h-1zM2032 564h1v1h-1zM2035 564h1v1h-1zM2038 564h1v1h-1zM2041 564h1v1h-1zM2044 564h1v1h-1zM2047 564h1v1h-1zM2050 564h1v1h-1zM2053 564h1v1h-1zM2056 564h1v1h-1zM2059 564h1v1h-1zM2062 564h1v1h-1zM2065 564h1v1h-1zM2068 564h1v1h-1zM2071 564h1v1h-1zM2074 564h1v1h-1zM2077 564h1v1h-1zM2080 564h1v1h-1zM2083 564h1v1h-1zM2086 564h1v1h-1zM2089 564h1v1h-1zM2092 564h1v1h-1zM2095 564h1v1h-1zM2098 564h1v1h-1zM2101 564h1v1h-1zM2104 564h1v1h-1zM2107 564h1v1h-1zM2110 564h1v1h-1zM2113 564h1v1h-1zM2116 564h1v1h-1zM2119 564h1v1h-1zM2122 564h1v1h-1zM2125 564h1v1h-1zM2128 564h1v1h-1zM2131 564h1v1h-1zM2134 564h1v1h-1zM2137 564h1v1h-1zM2140 564h1v1h-1zM2143 564h1v1h-1zM2146 564h1v1h-1zM2149 564h1v1h-1zM2152 564h1v1h-1zM2155 564h1v1h-1zM2158 564h1v1h-1zM2161 564h1v1h-1zM2164 564h1v1h-1zM2167 564h1v1h-1zM2170 564h1v1h-1zM2173 564h1v1h-1zM2176 564h1v1h-1zM2179 564h1v1h-1zM2182 564h1v1h-1zM2185 564h1v1h-1zM2188 564h1v1h-1zM2191 564h1v1h-1zM2194 564h1v1h-1zM2197 564h1v1h-1zM2200 564h1v1h-1zM2203 564h1v1h-1zM2206 564h1v1h-1zM2209 564h1v1h-1zM2212 564h1v1h-1zM2215 564h1v1h-1zM2218 564h1v1h-1zM2221 564h1v1h-1zM2224 564h1v1h-1zM2227 564h1v1h-1zM2230 564h1v1h-1zM2233 564h1v1h-1zM2236 564h1v1h-1zM2239 564h1v1h-1zM2242 564h1v1h-1zM2245 564h1v1h-1zM2248 564h1v1h-1zM2251 564h1v1h-1zM2254 564h1v1h-1zM2257 564h1v1h-1zM2260 564h1v1h-1zM2263 564h1v1h-1zM2266 564h1v1h-1zM2269 564h1v1h-1zM2272 564h1v1h-1zM2275 564h1v1h-1zM2278 564h1v1h-1zM2281 564h1v1h-1zM2284 564h1v1h-1zM2287 564h1v1h-1zM2290 564h1v1h-1zM2293 564h1v1h-1zM2296 564h1v1h-1zM2299 564h1v1h-1zM2302 564h1v1h-1zM2305 564h1v1h-1zM2308 564h1v1h-1zM2311 564h1v1h-1zM2314 564h1v1h-1zM2317 564h1v1h-1zM2320 564h1v1h-1zM2323 564h1v1h-1zM2326 564h1v1h-1zM2329 564h1v1h-1zM2332 564h1v1h-1zM2335 564h1v1h-1zM2338 564h1v1h-1zM2341 564h1v1h-1zM2344 564h1v1h-1zM2347 564h1v1h-1zM2350 564h1v1h-1zM2353 564h1v1h-1zM2356 564h1v1h-1z" fill="#f23645"/>
<path d="M2360 554H2432.5A2.5 2.5 0 0 1 2435 556.5V590.7A2.5 2.5 0 0 1 2432.5 593.2H2360Z" fill="#f23645" shape-rendering="geometricPrecision"/>
<g stroke="#000" stroke-width="2.6" fill="none" stroke-linecap="round" stroke-linejoin="round" shape-rendering="geometricPrecision">
<path d="M2133 580.8L2164.3 781.9M2150 771.3L2164.3 781.9L2175.3 767.5"/>
<path d="M2225.8 766.8L2306.6 391.3M2290.8 400.4L2306.6 391.3L2316 407.2"/>
</g>
<g style="opacity:0.999"><text x="12.7" y="24.8" font-size="15" fill="#131722" textLength="45.8" lengthAdjust="spacingAndGlyphs">Xanrox</text>
<text x="63.4" y="24.8" font-size="15" fill="#131722" textLength="50.9" lengthAdjust="spacingAndGlyphs">created</text>
<text x="120" y="24.8" font-size="15" fill="#131722" textLength="28.5" lengthAdjust="spacingAndGlyphs">with</text>
<text x="154.1" y="24.8" font-size="15" fill="#131722" textLength="118.1" lengthAdjust="spacingAndGlyphs">TradingView.com,</text>
<text x="277" y="24.8" font-size="15" fill="#131722" textLength="22.3" lengthAdjust="spacingAndGlyphs">Oct</text>
<text x="305.3" y="24.8" font-size="15.5" fill="#131722" textLength="21.7" lengthAdjust="spacingAndGlyphs">12,</text>
<text x="331.0" y="24.8" font-size="15.5" fill="#131722" textLength="30.0" lengthAdjust="spacingAndGlyphs">2025</text>
<text x="366.8" y="24.8" font-size="15.5" fill="#131722" textLength="34.5" lengthAdjust="spacingAndGlyphs">11:21</text>
<text x="408.6" y="24.8" font-size="15" fill="#131722" textLength="42.8" lengthAdjust="spacingAndGlyphs">UTC+2</text>
<text x="23.2" y="58.6" font-size="15" fill="#131722" textLength="20.0" lengthAdjust="spacingAndGlyphs">SUI</text>
<text x="52.8" y="58.6" font-size="15" fill="#131722" text-anchor="middle">/</text>
<text x="62.4" y="58.6" font-size="15" fill="#131722" textLength="58.3" lengthAdjust="spacingAndGlyphs">TetherUS</text>
<text x="128.4" y="58.6" font-size="15" fill="#131722" text-anchor="middle">·</text>
<text x="136.0" y="58.6" font-size="15" fill="#131722" textLength="16.2" lengthAdjust="spacingAndGlyphs">3D</text>
<text x="160.1" y="58.6" font-size="15" fill="#131722" text-anchor="middle">·</text>
<text x="168.4" y="58.6" font-size="15" fill="#131722" textLength="51.0" lengthAdjust="spacingAndGlyphs">Binance</text>
<text x="229.0" y="58.6" font-size="15" fill="#131722" textLength="10.0" lengthAdjust="spacingAndGlyphs">O</text>
<text x="293.4" y="58.6" font-size="15" fill="#131722" textLength="9.0" lengthAdjust="spacingAndGlyphs">H</text>
<text x="357.4" y="58.6" font-size="15" fill="#131722" textLength="6.6" lengthAdjust="spacingAndGlyphs">L</text>
<text x="418.2" y="58.6" font-size="15" fill="#131722" textLength="8.6" lengthAdjust="spacingAndGlyphs">C</text>
<text x="239.4" y="58.6" font-size="15.5" fill="#f23645" textLength="44.0" lengthAdjust="spacingAndGlyphs">3.4074</text>
<text x="303.0" y="58.6" font-size="15.5" fill="#f23645" textLength="44.4" lengthAdjust="spacingAndGlyphs">3.4790</text>
<text x="364.5" y="58.6" font-size="15.5" fill="#f23645" textLength="44.0" lengthAdjust="spacingAndGlyphs">0.5597</text>
<text x="427.0" y="58.6" font-size="15.5" fill="#f23645" textLength="44.4" lengthAdjust="spacingAndGlyphs">2.4943</text>
<text x="481.6" y="58.6" font-size="15.5" fill="#f23645" textLength="50.8" lengthAdjust="spacingAndGlyphs">−0.9132</text>
<text x="539.0" y="58.6" font-size="15.5" fill="#f23645" textLength="64.0" lengthAdjust="spacingAndGlyphs">(−26.80%)</text>
<rect x="2364.3" y="39" width="72.5" height="32" rx="6" fill="#fff" stroke="#f2f2f4" stroke-width="2" shape-rendering="geometricPrecision"/>
<text x="2375.6" y="60.0" font-size="15.2" fill="#45484f" textLength="34.8" lengthAdjust="spacingAndGlyphs">USDT</text>
<text x="2370.2" y="147.1" font-size="15.5" fill="#2c303b" textLength="45.1" lengthAdjust="spacingAndGlyphs">5.0000</text>
<text x="2370.2" y="231.5" font-size="15.5" fill="#2c303b" textLength="45.1" lengthAdjust="spacingAndGlyphs">4.5000</text>
<text x="2370.2" y="315.8" font-size="15.5" fill="#2c303b" textLength="45.1" lengthAdjust="spacingAndGlyphs">4.0000</text>
<text x="2370.2" y="400.2" font-size="15.5" fill="#2c303b" textLength="45.1" lengthAdjust="spacingAndGlyphs">3.5000</text>
<text x="2370.2" y="484.5" font-size="15.5" fill="#2c303b" textLength="45.1" lengthAdjust="spacingAndGlyphs">3.0000</text>
<text x="2370.2" y="653.3" font-size="15.5" fill="#2c303b" textLength="45.1" lengthAdjust="spacingAndGlyphs">2.0000</text>
<text x="2370.2" y="737.6" font-size="15.5" fill="#2c303b" textLength="45.1" lengthAdjust="spacingAndGlyphs">1.5000</text>
<text x="2370.2" y="822.0" font-size="15.5" fill="#2c303b" textLength="45.1" lengthAdjust="spacingAndGlyphs">1.0000</text>
<text x="2370.2" y="906.3" font-size="15.5" fill="#2c303b" textLength="45.1" lengthAdjust="spacingAndGlyphs">0.5000</text>
<text x="2370.2" y="990.7" font-size="15.5" fill="#2c303b" textLength="45.1" lengthAdjust="spacingAndGlyphs">0.0000</text>
<text x="2370.2" y="1075.1" font-size="15.5" fill="#2c303b" textLength="52.4" lengthAdjust="spacingAndGlyphs">−0.5000</text>
<text x="2370.8" y="570.3" font-size="15.5" fill="#fff" textLength="45.0" lengthAdjust="spacingAndGlyphs" stroke="#fff" stroke-width="0.45">2.4943</text>
<text x="2370.9" y="588.3" font-size="15.5" fill="#fabdc3" textLength="58.8" lengthAdjust="spacingAndGlyphs" stroke="#fabdc3" stroke-width="0.25">14:38:54</text>
<text x="252.3" y="1105.8" font-size="15" fill="#131722" textLength="25.6" lengthAdjust="spacingAndGlyphs" text-anchor="middle">May</text>
<text x="381.8" y="1105.8" font-size="15" fill="#131722" textLength="19.2" lengthAdjust="spacingAndGlyphs" text-anchor="middle">Jul</text>
<text x="505.1" y="1105.8" font-size="15" fill="#131722" textLength="23.6" lengthAdjust="spacingAndGlyphs" text-anchor="middle">Sep</text>
<text x="634.6" y="1105.8" font-size="15" fill="#131722" textLength="24.6" lengthAdjust="spacingAndGlyphs" text-anchor="middle">Nov</text>
<text x="758.0" y="1105.8" font-size="15.5" fill="#131722" textLength="33.8" lengthAdjust="spacingAndGlyphs" text-anchor="middle" font-weight="bold">2024</text>
<text x="881.3" y="1105.8" font-size="15" fill="#131722" textLength="24.2" lengthAdjust="spacingAndGlyphs" text-anchor="middle">Mar</text>
<text x="1010.8" y="1105.8" font-size="15" fill="#131722" textLength="25.6" lengthAdjust="spacingAndGlyphs" text-anchor="middle">May</text>
<text x="1134.1" y="1105.8" font-size="15" fill="#131722" textLength="19.2" lengthAdjust="spacingAndGlyphs" text-anchor="middle">Jul</text>
<text x="1263.6" y="1105.8" font-size="15" fill="#131722" textLength="23.6" lengthAdjust="spacingAndGlyphs" text-anchor="middle">Sep</text>
<text x="1387.0" y="1105.8" font-size="15" fill="#131722" textLength="24.6" lengthAdjust="spacingAndGlyphs" text-anchor="middle">Nov</text>
<text x="1510.3" y="1105.8" font-size="15.5" fill="#131722" textLength="33.8" lengthAdjust="spacingAndGlyphs" text-anchor="middle" font-weight="bold">2025</text>
<text x="1633.6" y="1105.8" font-size="15" fill="#131722" textLength="24.2" lengthAdjust="spacingAndGlyphs" text-anchor="middle">Mar</text>
<text x="1757.0" y="1105.8" font-size="15" fill="#131722" textLength="25.6" lengthAdjust="spacingAndGlyphs" text-anchor="middle">May</text>
<text x="1886.5" y="1105.8" font-size="15" fill="#131722" textLength="19.2" lengthAdjust="spacingAndGlyphs" text-anchor="middle">Jul</text>
<text x="2009.8" y="1105.8" font-size="15" fill="#131722" textLength="23.6" lengthAdjust="spacingAndGlyphs" text-anchor="middle">Sep</text>
<text x="2139.3" y="1105.8" font-size="15" fill="#131722" textLength="24.6" lengthAdjust="spacingAndGlyphs" text-anchor="middle">Nov</text>
<text x="2262.6" y="1105.8" font-size="15.5" fill="#131722" textLength="33.8" lengthAdjust="spacingAndGlyphs" text-anchor="middle" font-weight="bold">2026</text>
<text x="1565.2" y="868.2" font-size="30.2" fill="#fff" textLength="134.6" lengthAdjust="spacingAndGlyphs" stroke="#fff" stroke-width="0.5">BUY ZONE</text>
<g transform="translate(15.3,1141.2) scale(1.06,1.035)" fill="#0f0f0f" shape-rendering="geometricPrecision"><path d="M14 22H7V11H0V4h14v18zM28 22h-8l7.5-18h8L28 22z"/><circle cx="20" cy="8" r="4"/></g>
<text x="61.7" y="1164.0" font-size="25.6" fill="#0f0f0f" textLength="151.5" lengthAdjust="spacingAndGlyphs" font-weight="bold">TradingView</text></g>
</svg>
</body></html>
